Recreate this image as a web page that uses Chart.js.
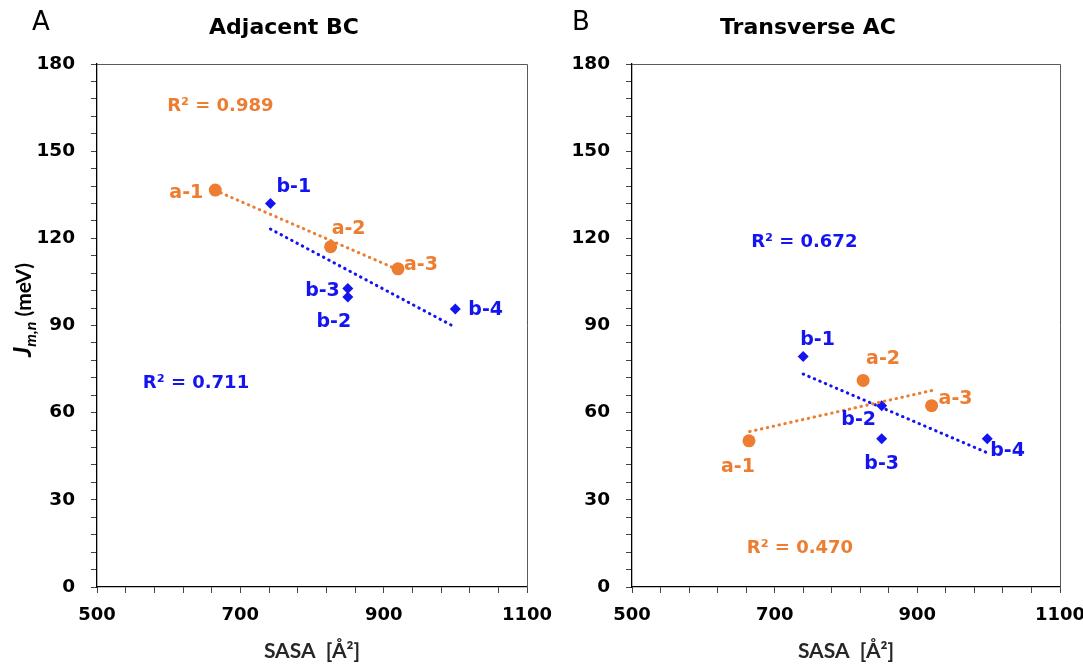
<!DOCTYPE html>
<html>
<head>
<meta charset="utf-8">
<script src="https://cdn.jsdelivr.net/npm/chart.js@4.4.1/dist/chart.umd.min.js"></script>
<style>
  html, body { margin: 0; background: #fff; overflow: hidden; }
  #wrap { position: relative; width: 1083px; height: 668px; overflow: hidden; }
  canvas { display: block; position: absolute; top: 0; }
  #chartA { left: 0; }
  #chartB { left: 541px; }
</style>
</head>
<body>
<div id="wrap">
  <canvas id="chartA" width="580" height="668"></canvas>
  <canvas id="chartB" width="560" height="668"></canvas>
</div>
<script>
// point names
const aNames = ['a-1', 'a-2', 'a-3'];
const bNames = ['b-1', 'b-2', 'b-3', 'b-4'];

// Adjacent BC
const adjSasaA = [665, 826, 920];
const adjJA = [136.6, 117.1, 109.5];
const adjSasaB = [742, 850, 850, 1000];
const adjJB = [132.0, 99.8, 102.7, 95.7];
const adjTrendSasaA = [665, 920];
const adjTrendJA = [136.5, 109.2];
const adjTrendSasaB = [742, 1000];
const adjTrendJB = [123.2, 89.4];

// Transverse AC
const trSasaA = [664, 824, 920];
const trJA = [50.3, 71.1, 62.4];
const trSasaB = [740, 850, 850, 998];
const trJB = [79.3, 62.4, 51.0, 51.0];
const trTrendSasaA = [665, 920];
const trTrendJA = [53.5, 67.6];
const trTrendSasaB = [740, 998];
const trTrendJB = [73.3, 46.2];

// axis ticks
const yMajor = [0, 30, 60, 90, 120, 150, 180];
const xMajor = [500, 700, 900, 1100];

const ORANGE = '#ED7D31';
const BLUE = '#1414F0';
const FONT = '"DejaVu Sans", sans-serif';
const FONT2 = 'Lato, sans-serif';

function pts(xs, ys) {
    return xs.map((x, i) => ({ x: x, y: ys[i] }));
}

// label placement (pixel offset from the point, text alignment)
const adjOffsetsA = [[-12, 3, 'right'], [1, -18, 'left'], [6, -4, 'left']];
const adjOffsetsB = [[6, -16, 'left'], [-14, 25, 'center'], [-8, 2, 'right'], [13, 1, 'left']];
const trOffsetsA = [[-11, 26, 'center'], [3, -21, 'left'], [7, -7, 'left']];
const trOffsetsB = [[-3, -17, 'left'], [-23, 14, 'center'], [0, 25, 'center'], [3, 12, 'left']];

const textPlugin = {
    id: 'panelText',
    afterDraw(chart) {
        const ctx = chart.ctx;
        const area = chart.chartArea;
        const opts = chart.options.plugins.panelText;
        const xs = chart.scales.x, ys = chart.scales.y;

        // frame on top and right
        ctx.save();
        ctx.strokeStyle = '#595959';
        ctx.lineWidth = 1;
        ctx.beginPath();
        ctx.moveTo(area.left, area.top + 0.5);
        ctx.lineTo(area.right + 0.5, area.top + 0.5);
        ctx.lineTo(area.right + 0.5, area.bottom);
        ctx.stroke();

        // point labels
        ctx.font = 'bold 19px ' + FONT;
        ctx.textBaseline = 'middle';
        chart.data.datasets.forEach((ds, di) => {
            if (!ds.names) return;
            const meta = chart.getDatasetMeta(di);
            meta.data.forEach((el, i) => {
                const o = ds.offsets[i];
                ctx.fillStyle = ds.backgroundColor;
                ctx.textAlign = o[2];
                ctx.fillText(ds.names[i], el.x + o[0], el.y + o[1]);
            });
        });

        // R² notes
        opts.notes.forEach(n => {
            ctx.fillStyle = n.color;
            ctx.textAlign = 'left';
            ctx.font = 'bold 18px ' + FONT;
            ctx.fillText(n.text, xs.getPixelForValue(n.x), ys.getPixelForValue(n.y));
        });

        // panel letter and title
        ctx.fillStyle = '#000';
        ctx.textAlign = 'left';
        ctx.font = '26px ' + FONT;
        ctx.fillText(opts.letter, opts.letterX, 23);
        ctx.textAlign = 'center';
        ctx.font = 'bold 22px ' + FONT;
        ctx.fillText(opts.title, opts.titleX, 28);

        // y axis title
        if (opts.yTitle) {
            ctx.translate(24, 310);
            ctx.rotate(-Math.PI / 2);
            ctx.textAlign = 'left';
            ctx.textBaseline = 'alphabetic';
            const parts = [
                ['italic bold 25px ' + FONT2, 'J', 0],
                ['italic bold 16px ' + FONT2, 'm,n', 5],
                ['bold 21px ' + FONT2, ' (meV)', 0]
            ];
            let w = 0;
            parts.forEach(p => { ctx.font = p[0]; w += ctx.measureText(p[1]).width; });
            let x = -w / 2;
            parts.forEach(p => {
                ctx.font = p[0];
                ctx.fillText(p[1], x, 7 + p[2]);
                x += ctx.measureText(p[1]).width;
            });
        }
        ctx.restore();
    }
};

function makePanel(id, cfg) {
    const ctx = document.getElementById(id).getContext('2d');
    const dots = { showLine: true, borderWidth: 3, borderDash: [0.5, 5.5], pointRadius: 0, borderCapStyle: 'round' };
    return new Chart(ctx, {
        type: 'scatter',
        data: {
            datasets: [
                Object.assign({ data: pts(cfg.trendAx, cfg.trendAy), borderColor: ORANGE }, dots),
                Object.assign({ data: pts(cfg.trendBx, cfg.trendBy), borderColor: BLUE }, dots),
                {
                    data: pts(cfg.ax, cfg.ay), names: aNames, offsets: cfg.offA,
                    backgroundColor: ORANGE, borderColor: ORANGE,
                    pointStyle: 'circle', pointRadius: 6.5, borderWidth: 0
                },
                {
                    data: pts(cfg.bx, cfg.by), names: bNames, offsets: cfg.offB,
                    backgroundColor: BLUE, borderColor: BLUE,
                    pointStyle: 'rectRot', pointRadius: 5.5, borderWidth: 0
                }
            ]
        },
        options: {
            responsive: false,
            animation: false,
            devicePixelRatio: 1,
            layout: { padding: { top: 64, right: cfg.padRight, left: 0, bottom: 0 } },
            plugins: {
                legend: { display: false },
                tooltip: { enabled: false },
                panelText: {
                    letter: cfg.letter, letterX: cfg.letterX,
                    title: cfg.title, titleX: cfg.titleX,
                    yTitle: cfg.yTitle, notes: cfg.notes
                }
            },
            scales: {
                x: {
                    min: 500, max: 1100,
                    afterFit: s => { s.height = 81; },
                    ticks: {
                        stepSize: 40, autoSkip: false, maxRotation: 0, padding: 12,
                        color: '#000', font: { family: FONT, size: 18, weight: 'bold' },
                        callback: v => xMajor.includes(v) ? v : ''
                    },
                    grid: { drawOnChartArea: false, drawTicks: true, tickLength: 6, color: '#444' },
                    border: { display: true, color: '#000', width: 1.3 },
                    title: {
                        display: true, text: 'SASA  [Å²]', color: '#262626', padding: { top: 5 },
                        font: { family: FONT2, size: 21, weight: 'bold' }
                    }
                },
                y: {
                    min: 0, max: 180,
                    afterFit: s => { s.width = cfg.yWidth; },
                    ticks: {
                        stepSize: 6, autoSkip: false, padding: 16,
                        color: '#000', font: { family: FONT, size: 18.5, weight: 'bold' },
                        callback: v => yMajor.includes(v) ? v : ''
                    },
                    grid: { drawOnChartArea: false, drawTicks: true, tickLength: 6, color: '#444' },
                    border: { display: true, color: '#000', width: 1.3 }
                }
            }
        },
        plugins: [textPlugin]
    });
}

makePanel('chartA', {
    ax: adjSasaA, ay: adjJA, bx: adjSasaB, by: adjJB,
    trendAx: adjTrendSasaA, trendAy: adjTrendJA, trendBx: adjTrendSasaB, trendBy: adjTrendJB,
    offA: adjOffsetsA, offB: adjOffsetsB,
    letter: 'A', letterX: 32, title: 'Adjacent BC', titleX: 284, yTitle: true,
    yWidth: 97, padRight: 53,
    notes: [
        { text: 'R² = 0.989', x: 598, y: 165.5, color: ORANGE },
        { text: 'R² = 0.711', x: 564, y: 70, color: BLUE }
    ]
});

makePanel('chartB', {
    ax: trSasaA, ay: trJA, bx: trSasaB, by: trJB,
    trendAx: trTrendSasaA, trendAy: trTrendJA, trendBx: trTrendSasaB, trendBy: trTrendJB,
    offA: trOffsetsA, offB: trOffsetsB,
    letter: 'B', letterX: 31, title: 'Transverse AC', titleX: 267, yTitle: false,
    yWidth: 91, padRight: 41,
    notes: [
        { text: 'R² = 0.672', x: 667, y: 118.5, color: BLUE },
        { text: 'R² = 0.470', x: 661, y: 13.2, color: ORANGE }
    ]
});
</script>
</body>
</html>
